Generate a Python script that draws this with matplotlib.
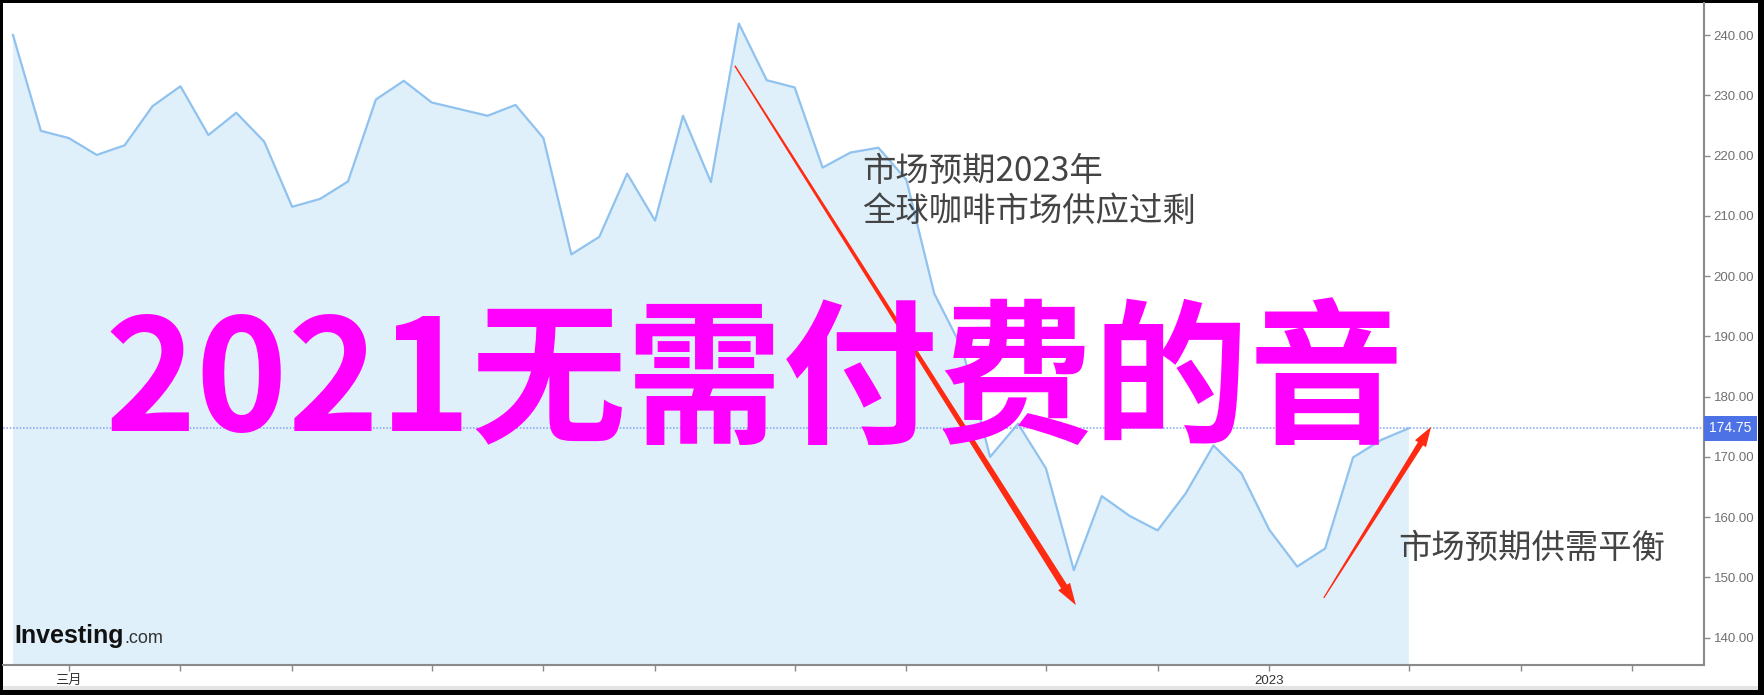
import numpy as np
import pandas as pd
import matplotlib
matplotlib.use('Agg')
import matplotlib.pyplot as plt
from matplotlib.patches import Rectangle, Polygon
from matplotlib.transforms import IdentityTransform

plt.rcParams['font.family'] = ['Liberation Sans', 'Noto Sans CJK SC']

# Weekly coffee futures closes
weeks = pd.date_range('2022-02-21', periods=51, freq='7D')
prices = [240.0, 224.1, 222.9, 220.1, 221.7, 228.2, 231.5, 223.4, 227.1, 222.3,
          211.5, 212.8, 215.7, 229.3, 232.4, 228.8, 227.7, 226.6, 228.4, 222.9,
          203.6, 206.5, 217.0, 209.2, 226.6, 215.6, 241.9, 232.5, 231.3, 218.0,
          220.5, 221.3, 216.0, 197.1, 188.0, 170.0, 175.5, 168.1, 151.2, 163.5,
          160.2, 157.8, 163.9, 171.9, 167.3, 157.9, 151.8, 154.8, 169.9, 172.8,
          174.75]
last_price = 174.75

y_ticks = np.arange(140, 241, 10)
x_ticks = pd.date_range('2022-03-01', '2023-04-30', freq='WOM-1MON')
x_labels = ['三月' if (d.year == 2022 and d.month == 3) else
            ('2023' if (d.year == 2023 and d.month == 1) else '') for d in x_ticks]

title_big = '2021无需付费的音'
note_top = '市场预期2023年\n全球咖啡市场供应过剩'
note_bottom = '市场预期供需平衡'

W, H = 1764, 695


def px(x, y):
    return x / W, 1 - y / H


def tapered_arrow(ax, start, end, w0, w1, head_w, head_len, color):
    p0 = ax.transData.transform((matplotlib.dates.date2num(pd.Timestamp(start[0])), start[1]))
    p1 = ax.transData.transform((matplotlib.dates.date2num(pd.Timestamp(end[0])), end[1]))
    d = p1 - p0
    u = d / np.hypot(*d)
    n = np.array([-u[1], u[0]])
    pb = p1 - u * head_len
    pts = [p0 + n * w0 / 2, pb + n * w1 / 2, pb + n * head_w / 2, p1,
           pb - n * head_w / 2, pb - n * w1 / 2, p0 - n * w0 / 2]
    ax.add_patch(Polygon(pts, closed=True, fc=color, ec='none',
                         transform=IdentityTransform(), clip_on=False, zorder=6))


fig = plt.figure(figsize=(W / 100, H / 100), dpi=100, facecolor='black')
# white canvas inside black frame
fig.patches.append(Rectangle(px(3, 690), 1755 / W, 687 / H, transform=fig.transFigure,
                             fc='white', ec='none', zorder=-10))
fig.patches.append(Rectangle(px(3, 690), 1755 / W, 4 / H, transform=fig.transFigure,
                             fc='#e4e4e4', ec='none', zorder=-9))

ax = fig.add_axes([3 / W, 1 - 665 / H, 1701 / W, 662 / H])
ax.patch.set_alpha(0)

ax.fill_between(weeks, prices, 100, color='#dff0fa', lw=0)
ax.plot(weeks, prices, color='#90c2ef', lw=1.6)
ax.axhline(last_price, color='#8fb0ee', lw=1.2, ls=(0, (1, 1)))

ax.set_xlim(weeks[0] - pd.Timedelta(days=2.5), weeks[0] + pd.Timedelta(days=424))
ax.set_ylim(135.47, 245.31)

for s in ['top', 'left']:
    ax.spines[s].set_visible(False)
for s in ['bottom', 'right']:
    ax.spines[s].set_color('#8a8a8a')
    ax.spines[s].set_linewidth(1.5)

ax.yaxis.tick_right()
ax.set_yticks(y_ticks)
ax.set_yticklabels([f'{v:.2f}' for v in y_ticks])
ax.set_xticks(x_ticks)
ax.set_xticklabels(x_labels)
ax.tick_params(axis='y', colors='#8a8a8a', labelcolor='#707070', labelsize=9.5,
               length=4, width=1, pad=3)
ax.tick_params(axis='x', colors='#8a8a8a', labelcolor='#333333', labelsize=9.5,
               length=4, width=1, pad=3)

# last price tag
ax.text(1.003, last_price, f'{last_price:.2f}', transform=ax.get_yaxis_transform(),
        ha='left', va='center', color='white', fontsize=10, zorder=7,
        bbox=dict(boxstyle='square,pad=0.4', fc='#4c72e6', ec='none'))

# annotations
fig.text(*px(862, 154), note_top, ha='left', va='top', fontsize=24, color='#444444',
         family=['Noto Sans CJK SC', 'DejaVu Sans'], linespacing=1.2)
fig.text(*px(1398, 558), note_bottom, ha='left', va='baseline', fontsize=24,
         color='#444444', family=['Noto Sans CJK SC', 'DejaVu Sans'])
fig.text(*px(105, 431), title_big, ha='left', va='baseline', fontsize=112,
         fontweight='bold', color='#ff00ff', family=['Noto Sans CJK SC', 'DejaVu Sans'],
         zorder=5)

tapered_arrow(ax, ('2022-08-21', 234.9), ('2022-11-14 12:00', 145.4), 1.5, 7, 14, 22, '#ff2a12')
tapered_arrow(ax, ('2023-01-15 16:00', 146.6), ('2023-02-11 14:00', 175.0), 1.2, 6, 13, 20, '#ff2a12')

# logo
logo = fig.text(*px(14, 643), 'Investing', ha='left', va='baseline', fontsize=18,
                fontweight='bold', color='#111111')
fig.canvas.draw()
bb = logo.get_window_extent()
fig.text(bb.x1 / W + 1 / W, 1 - 643 / H, '.com', ha='left', va='baseline', fontsize=13,
         color='#333333')

fig.savefig('out.png', dpi=100, facecolor=fig.get_facecolor())
